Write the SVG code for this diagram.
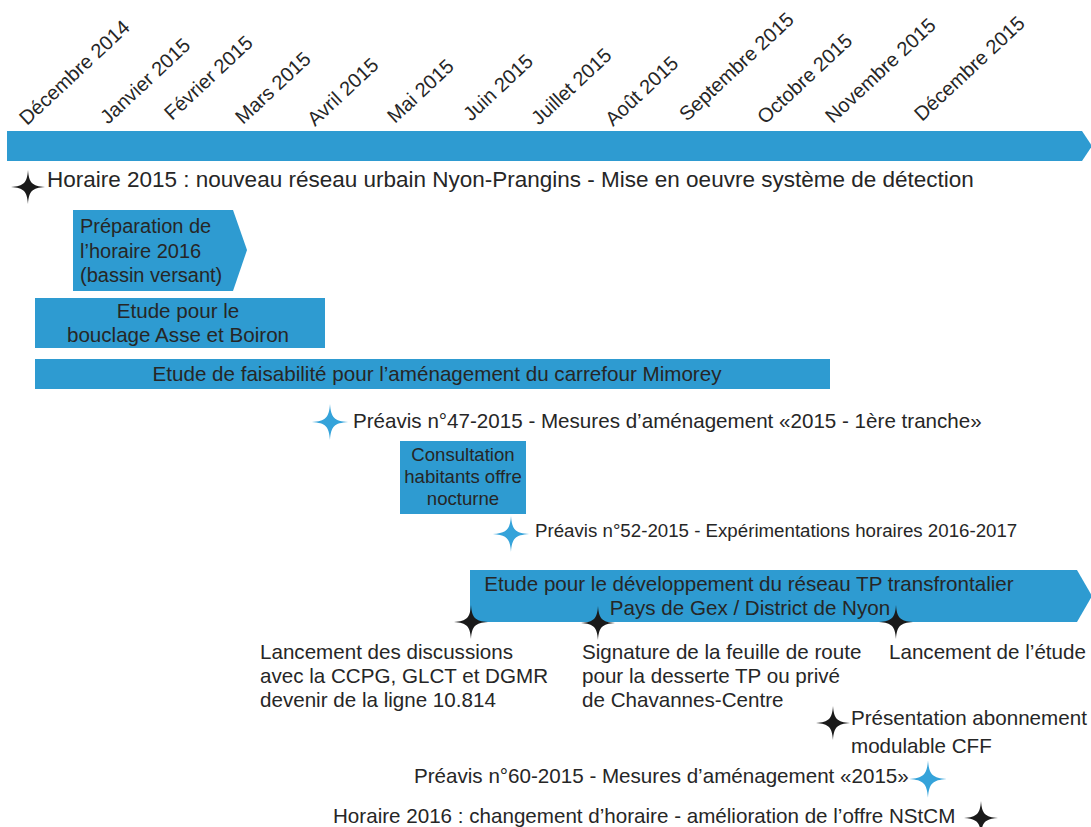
<svg xmlns="http://www.w3.org/2000/svg" xmlns:xlink="http://www.w3.org/1999/xlink" width="1091" height="827" viewBox="0 0 1091 827">
<style>
text{font-family:"Liberation Sans",Arial,sans-serif;fill:#262626;}
.m{font-size:20px;}
.t{font-size:20.6px;}
.c{text-anchor:middle;}
.bar{fill:#2e9bd1;}
.sk{fill:#1a1a1a;}
.sb{fill:#35a3da;}
</style>
<defs>
<path id="star" d="M0,-17 C1,-4 4,-1 17,0 C4,1 1,4 0,17 C-1,4 -4,1 -17,0 C-4,-1 -1,-4 0,-17Z"/>
</defs>
<rect width="1091" height="827" fill="#ffffff"/>

<g id="timeline">
<path class="bar" d="M7,131 H1082 L1092,146 L1082,161 H7 Z"/>
<text class="m" transform="translate(27,126) rotate(-43)">Décembre 2014</text>
<text class="m" transform="translate(108,125) rotate(-43)">Janvier 2015</text>
<text class="m" transform="translate(172,121) rotate(-43)">Février 2015</text>
<text class="m" transform="translate(243,125) rotate(-43)">Mars 2015</text>
<text class="m" transform="translate(315,127) rotate(-43)">Avril 2015</text>
<text class="m" transform="translate(395,124) rotate(-43)">Mai 2015</text>
<text class="m" transform="translate(471,122) rotate(-43)">Juin 2015</text>
<text class="m" transform="translate(539,126) rotate(-43)">Juillet 2015</text>
<text class="m" transform="translate(613,127) rotate(-43)">Août 2015</text>
<text class="m" transform="translate(687,122) rotate(-43)">Septembre 2015</text>
<text class="m" transform="translate(765,125) rotate(-43)">Octobre 2015</text>
<text class="m" transform="translate(833,124) rotate(-43)">Novembre 2015</text>
<text class="m" transform="translate(922,122) rotate(-43)">Décembre 2015</text>
</g>

<g id="horaire2015">
<use xlink:href="#star" class="sk" transform="translate(28,187)"/>
<text x="47" y="187" style="font-size:22.5px">Horaire 2015 : nouveau réseau urbain Nyon-Prangins - Mise en oeuvre système de détection</text>
</g>

<g id="preparation">
<path class="bar" d="M73,210 H233 L247,250 L233,291 H73 Z"/>
<text class="t" x="80" y="233" style="font-size:20px">Préparation de</text>
<text class="t" x="80" y="258" style="font-size:20px">l’horaire 2016</text>
<text class="t" x="80" y="282" style="font-size:20px">(bassin versant)</text>
</g>

<g id="bouclage">
<rect class="bar" x="35" y="298" width="290" height="50"/>
<text class="t c" x="178" y="318">Etude pour le</text>
<text class="t c" x="178" y="342">bouclage Asse et Boiron</text>
</g>

<g id="mimorey">
<rect class="bar" x="35" y="359" width="795" height="30"/>
<text class="t c" x="437" y="381">Etude de faisabilité pour l’aménagement du carrefour Mimorey</text>
</g>

<g id="preavis47">
<use xlink:href="#star" class="sb" transform="translate(330,422) scale(1.06)"/>
<text class="t" x="353" y="428">Préavis n°47-2015 - Mesures d’aménagement «2015 - 1ère tranche»</text>
</g>

<g id="consultation">
<rect class="bar" x="400" y="441" width="126" height="73"/>
<text class="c" x="463" y="461" style="font-size:18.6px">Consultation</text>
<text class="c" x="463" y="483" style="font-size:18.6px">habitants offre</text>
<text class="c" x="463" y="505" style="font-size:18.6px">nocturne</text>
</g>

<g id="preavis52">
<use xlink:href="#star" class="sb" transform="translate(511,534) scale(1.06)"/>
<text x="535" y="537" style="font-size:18.7px">Préavis n°52-2015 - Expérimentations horaires 2016-2017</text>
</g>

<g id="etudeTP">
<path class="bar" d="M470,570 H1077 L1092,596 L1077,622 H470 Z"/>
<text class="t c" x="749" y="591">Etude pour le développement du réseau TP transfrontalier</text>
<text class="t c" x="750" y="615">Pays de Gex / District de Nyon</text>
</g>

<g id="lancementDiscussions">
<use xlink:href="#star" class="sk" transform="translate(471,622)"/>
<text class="t" x="260" y="659">Lancement des discussions</text>
<text class="t" x="260" y="683">avec la CCPG, GLCT et DGMR</text>
<text class="t" x="260" y="707">devenir de la ligne 10.814</text>
</g>

<g id="signature">
<use xlink:href="#star" class="sk" transform="translate(598,623)"/>
<text class="t" x="582" y="659">Signature de la feuille de route</text>
<text class="t" x="582" y="683">pour la desserte TP ou privé</text>
<text class="t" x="582" y="707">de Chavannes-Centre</text>
</g>

<g id="lancementEtude">
<use xlink:href="#star" class="sk" transform="translate(896,622)"/>
<text class="t" x="889" y="659">Lancement de l’étude</text>
</g>

<g id="abonnement">
<use xlink:href="#star" class="sk" transform="translate(833,723)"/>
<text class="t" x="851" y="725">Présentation abonnement</text>
<text class="t" x="851" y="753">modulable CFF</text>
</g>

<g id="preavis60">
<use xlink:href="#star" class="sb" transform="translate(928,779) scale(1.1)"/>
<text class="t" x="414" y="783">Préavis n°60-2015 - Mesures d’aménagement «2015»</text>
</g>

<g id="horaire2016">
<use xlink:href="#star" class="sk" transform="translate(981,818)"/>
<text class="t" x="333" y="823">Horaire 2016 : changement d’horaire - amélioration de l’offre NStCM</text>
</g>
</svg>
